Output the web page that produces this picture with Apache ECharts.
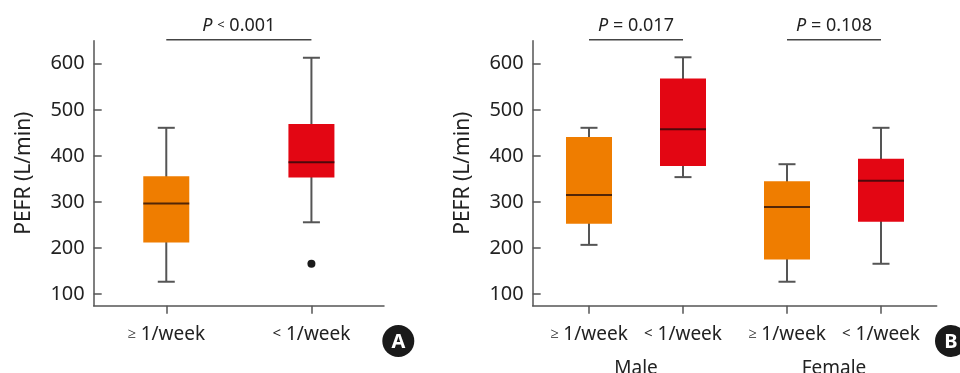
<!DOCTYPE html>
<html><head><meta charset="utf-8">
<script src="https://cdn.jsdelivr.net/npm/echarts@6/dist/echarts.min.js"></script>
<style>html,body{margin:0;padding:0;background:#fff}#c{width:960px;height:373px}</style>
</head><body><div id="c"></div>
<script>
// ---------- data ----------
const categories = ['≥ 1/week', '< 1/week'];
const groups = ['Male', 'Female'];
const yTicks = [100, 200, 300, 400, 500, 600];
// each box: [min, Q1, median, Q3, max]
const boxesA = [[127, 212, 297, 356, 461], [256, 353, 386, 469, 613]];
const outliersA = [[1, 166]];
const boxesMale = [[207, 253, 315, 441, 461], [354, 378, 458, 568, 614]];
const boxesFemale = [[127, 175, 289, 345, 382], [166, 257, 346, 394, 461]];
const pLabels = ['< 0.001', '= 0.017', '= 0.108'];
const panelLetters = ['A', 'B'];
const yName = 'PEFR (L/min)';

// ---------- style ----------
const FONT = 'Noto Sans';
const COLORS = ['#EF7D00', '#E30613'];
const AXIS = '#555';
const Y_MIN = 75, Y_MAX = 650, BRACKET_Y = 650;

const chart = echarts.init(document.getElementById('c'), null, {renderer: 'canvas'});

function boxRender(params, api) {
  const x = api.value(0);
  const lo = api.coord([x, api.value(1)]);
  const q1 = api.coord([x, api.value(2)]);
  const md = api.coord([x, api.value(3)]);
  const q3 = api.coord([x, api.value(4)]);
  const hi = api.coord([x, api.value(5)]);
  const cx = lo[0], hw = 23, cap = 8.5;
  const ws = {stroke: AXIS, lineWidth: 2};
  return {type: 'group', children: [
    {type: 'line', shape: {x1: cx, y1: lo[1], x2: cx, y2: hi[1]}, style: ws},
    {type: 'line', shape: {x1: cx - cap, y1: lo[1], x2: cx + cap, y2: lo[1]}, style: ws},
    {type: 'line', shape: {x1: cx - cap, y1: hi[1], x2: cx + cap, y2: hi[1]}, style: ws},
    {type: 'rect', shape: {x: cx - hw, y: q3[1], width: 2 * hw, height: q1[1] - q3[1]}, style: {fill: COLORS[x]}},
    {type: 'line', shape: {x1: cx - hw, y1: md[1], x2: cx + hw, y2: md[1]}, style: {stroke: 'rgba(30,10,10,0.75)', lineWidth: 2}}
  ]};
}

function bracketRender(label) {
  return function (params, api) {
    const p0 = api.coord([0, BRACKET_Y]);
    const p1 = api.coord([1, BRACKET_Y]);
    const y = p0[1] - 1;
    const txt = '{i|P} ' + label.replace(/^</, '{s|<}');
    return {type: 'group', children: [
      {type: 'line', shape: {x1: p0[0], y1: y, x2: p1[0], y2: y}, style: {stroke: '#444', lineWidth: 1.5}},
      {type: 'text', x: (p0[0] + p1[0]) / 2, y: y - 14, style: {
        text: txt, fill: '#222', fontSize: 18, fontFamily: FONT,
        align: 'center', verticalAlign: 'middle',
        rich: {i: {fontStyle: 'italic', fontSize: 18, fontFamily: FONT, fill: '#222'},
               s: {fontSize: 13, fontFamily: FONT, fill: '#222'}}
      }}
    ]};
  };
}

function yAxis(gi, show) {
  return {
    type: 'value', gridIndex: gi, min: Y_MIN, max: Y_MAX, show: show,
    axisLine: {show: true, lineStyle: {color: AXIS, width: 1.5}},
    axisTick: {show: true, inside: true, length: 8, customValues: yTicks, lineStyle: {color: AXIS, width: 1.5}},
    axisLabel: {show: true, customValues: yTicks, fontSize: 20, color: '#222', margin: 9, fontFamily: FONT},
    splitLine: {show: false},
    name: show ? yName : '', nameLocation: 'middle', nameGap: 59,
    nameTextStyle: {fontSize: 21, color: '#222', fontFamily: FONT}
  };
}

function labelFmt(v) { return v.replace(/^([≥<])\s*/, '{s|$1} '); }
const xLabel = {fontSize: 19, color: '#222', fontFamily: FONT, margin: 19, interval: 0, formatter: labelFmt,
  rich: {s: {fontSize: 15, color: '#222', fontFamily: FONT}}};

function xCat(gi, opts) {
  return Object.assign({
    type: 'category', gridIndex: gi, data: categories, boundaryGap: true,
    axisLine: {show: true, lineStyle: {color: AXIS, width: 1.5}},
    axisTick: {show: true, alignWithLabel: true, interval: 0, length: 8, lineStyle: {color: AXIS, width: 1.5}},
    axisLabel: xLabel, splitLine: {show: false}
  }, opts || {});
}

const toItems = arr => arr.map((b, i) => [i].concat(b));
const gridBase = {top: 40.7, height: 265, outerBoundsMode: 'none', containLabel: false};

const option = {
  animation: false,
  backgroundColor: '#fff',
  grid: [
    Object.assign({left: 93.7, width: 290.3}, gridBase),
    Object.assign({left: 532.7, width: 404}, gridBase),
    Object.assign({left: 542, width: 188}, gridBase),
    Object.assign({left: 740, width: 188}, gridBase)
  ],
  xAxis: [
    xCat(0),
    {type: 'category', gridIndex: 1, data: groups, axisLine: {show: true, lineStyle: {color: AXIS, width: 1.5}},
     axisTick: {show: false}, axisLabel: {show: false}},
    xCat(2, {axisLine: {show: false}, name: groups[0], nameLocation: 'middle', nameGap: 53,
      nameTextStyle: {fontSize: 19, color: '#222', fontFamily: FONT}}),
    xCat(3, {axisLine: {show: false}, name: groups[1], nameLocation: 'middle', nameGap: 53,
      nameTextStyle: {fontSize: 19, color: '#222', fontFamily: FONT}})
  ],
  yAxis: [yAxis(0, true), yAxis(1, true), yAxis(2, false), yAxis(3, false)],
  series: [
    {type: 'custom', xAxisIndex: 0, yAxisIndex: 0, data: toItems(boxesA), renderItem: boxRender, encode: {x: 0, y: [1, 2, 3, 4, 5]}, clip: false},
    {type: 'scatter', xAxisIndex: 0, yAxisIndex: 0, data: outliersA, symbolSize: 8, itemStyle: {color: '#1a1a1a', opacity: 1}},
    {type: 'custom', xAxisIndex: 2, yAxisIndex: 2, data: toItems(boxesMale), renderItem: boxRender, encode: {x: 0, y: [1, 2, 3, 4, 5]}, clip: false},
    {type: 'custom', xAxisIndex: 3, yAxisIndex: 3, data: toItems(boxesFemale), renderItem: boxRender, encode: {x: 0, y: [1, 2, 3, 4, 5]}, clip: false},
    {type: 'custom', xAxisIndex: 0, yAxisIndex: 0, data: [[0, BRACKET_Y]], renderItem: bracketRender(pLabels[0]), clip: false},
    {type: 'custom', xAxisIndex: 2, yAxisIndex: 2, data: [[0, BRACKET_Y]], renderItem: bracketRender(pLabels[1]), clip: false},
    {type: 'custom', xAxisIndex: 3, yAxisIndex: 3, data: [[0, BRACKET_Y]], renderItem: bracketRender(pLabels[2]), clip: false}
  ],
  graphic: [
    {type: 'group', left: 382.3, top: 325, children: [
      {type: 'circle', shape: {cx: 16, cy: 16, r: 16}, style: {fill: '#1a1a1a'}},
      {type: 'text', x: 16, y: 17, style: {text: panelLetters[0], fill: '#fff', fontSize: 20, fontWeight: 'bold', fontFamily: FONT, align: 'center', verticalAlign: 'middle'}}
    ]},
    {type: 'group', left: 935, top: 325, children: [
      {type: 'circle', shape: {cx: 16, cy: 16, r: 16}, style: {fill: '#1a1a1a'}},
      {type: 'text', x: 16, y: 17, style: {text: panelLetters[1], fill: '#fff', fontSize: 20, fontWeight: 'bold', fontFamily: FONT, align: 'center', verticalAlign: 'middle'}}
    ]}
  ]
};
chart.setOption(option);
</script>
</body></html>
